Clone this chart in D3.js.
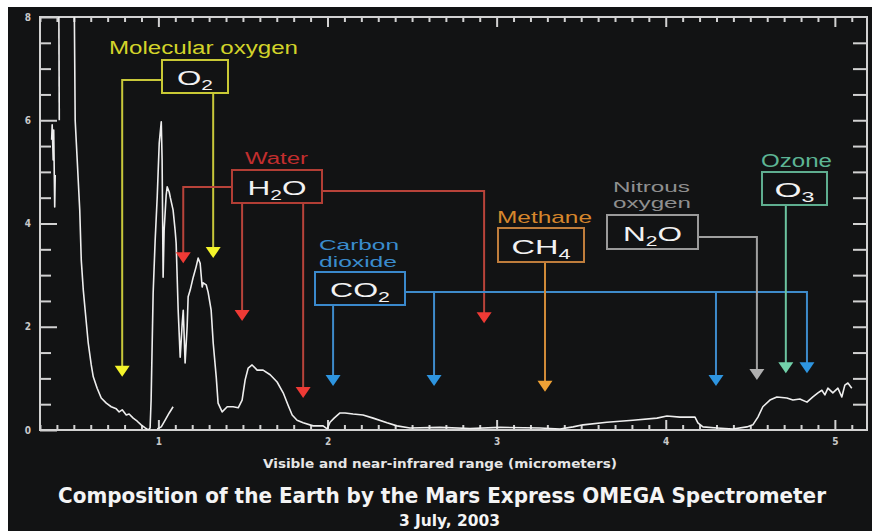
<!DOCTYPE html>
<html><head><meta charset="utf-8">
<script src="https://cdn.jsdelivr.net/npm/d3@7/dist/d3.min.js"></script>
<style>
html,body{margin:0;padding:0;background:#121314;}
svg{display:block;}
</style></head><body>
<svg id="chart" width="872" height="531"></svg>
<script>
// ---------------- DATA ----------------
const xMajorTicks = [1, 2, 3, 4, 5];
const yMajorTicks = [0, 2, 4, 6, 8];

// [wavelength (µm), signal]
const spectrumMain = [
  [0.502,8.5],[0.508,6.00],[0.520,5.23],[0.535,4.26],[0.544,3.29],[0.556,2.71],[0.567,2.32],
  [0.585,1.69],[0.603,1.26],[0.615,1.03],[0.638,0.81],[0.662,0.62],[0.692,0.52],[0.721,0.45],
  [0.751,0.41],[0.768,0.35],[0.786,0.39],[0.810,0.29],[0.827,0.31],[0.851,0.23],[0.875,0.17],
  [0.898,0.10],[0.922,0.04],[0.940,0.00],[0.951,0.04],[0.957,0.58],[0.969,2.65],[0.981,3.68],
  [0.993,4.51],[1.005,5.56],[1.017,5.97],[1.022,5.23],[1.028,2.96],[1.034,3.87],[1.046,4.55],
  [1.052,4.71],[1.064,4.61],[1.070,4.51],[1.087,4.26],[1.099,3.87],[1.105,3.62],[1.117,2.32],
  [1.129,1.41],[1.141,2.07],[1.147,2.32],[1.158,1.30],[1.170,2.00],[1.176,2.58],[1.188,2.71],
  [1.206,2.96],[1.223,3.16],[1.235,3.33],[1.247,3.23],[1.259,2.77],[1.265,2.85],[1.283,2.81],
  [1.294,2.67],[1.312,2.32],[1.324,1.69],[1.342,1.03],[1.353,0.52],[1.377,0.35],[1.407,0.45],
  [1.442,0.45],[1.472,0.43],[1.495,0.58],[1.513,0.97],[1.531,1.20],[1.554,1.26],[1.584,1.16],
  [1.619,1.16],[1.661,1.07],[1.702,0.93],[1.738,0.72],[1.767,0.48],[1.791,0.29],[1.820,0.19],
  [1.856,0.14],[1.915,0.08],[1.974,0.08],[1.998,0.02],[2.015,0.15],[2.039,0.23],[2.074,0.33],
  [2.104,0.33],[2.151,0.31],[2.210,0.29],[2.270,0.23],[2.352,0.14],[2.411,0.08],[2.488,0.04],
  [2.665,0.05],[2.843,0.03],[3.020,0.05],[3.256,0.04],[3.375,0.02],[3.452,0.06],[3.511,0.10],
  [3.652,0.15],[3.806,0.19],[3.948,0.23],[4.007,0.27],[4.084,0.25],[4.173,0.25],[4.190,0.14],
  [4.220,0.06],[4.303,0.04],[4.397,0.02],[4.480,0.06],[4.515,0.10],[4.545,0.25],[4.574,0.45],
  [4.616,0.58],[4.657,0.64],[4.716,0.62],[4.752,0.58],[4.793,0.60],[4.835,0.54],[4.870,0.64],
  [4.900,0.72],[4.923,0.77],[4.941,0.68],[4.959,0.81],[4.988,0.72],[5.018,0.81],[5.041,0.64],
  [5.059,0.87],[5.077,0.91],[5.100,0.81]
];
const spectrumBranch = [[0.993,0.02],[1.017,0.06],[1.040,0.19],[1.064,0.33],[1.087,0.45]];
const spectrumEdge = [[0.369,5.62],[0.372,5.91],[0.378,5.23],[0.381,5.81],[0.387,4.32],[0.390,4.94]];
const spectrumSpike = [[0.411,8.5],[0.414,6.00]];

const gasFormulas = ["O2", "H2O", "CO2", "CH4", "N2O", "O3"];
const gasNames = [["Molecular oxygen"], ["Water"], ["Carbon", "dioxide"], ["Methane"], ["Nitrous", "oxygen"], ["Ozone"]];
const bandWavelengths = [[0.786, 1.324], [1.147, 1.495, 1.856, 2.926], [2.033, 2.630, 4.297, 4.835], [3.286], [4.539], [4.710]];
const bandLevels = [[1.03, 3.33], [3.23, 2.11, 0.62, 2.07], [0.85, 0.85, 0.85, 1.10], [0.74], [0.97], [1.10]];

const xAxisTitle = "Visible and near-infrared range (micrometers)";
const chartTitle = "Composition of the Earth by the Mars Express OMEGA Spectrometer";
const chartSubtitle = "3 July, 2003";

// ---------------- LAYOUT / STYLE ----------------
const W = 872, H = 531;
const plot = {left: 40, right: 867, top: 17, bottom: 430};
const gasLayout = [
  {box:[162,60,228,93],  fLen:36, label:{x:109, size:18, lines:[[54,189]]}, routes:[["left",80],["bottom"]],
   color:{text:"#d3d32a", box:"#c9c935", line:"#c8c83a", head:"#f4f42a"}},
  {box:[232,170,322,203], fLen:59, label:{x:245, size:16, lines:[[164,63]]}, routes:[["left",187],["bottom"],["bottom"],["right",191]],
   color:{text:"#c22e2e", box:"#b23e35", line:"#b8433a", head:"#ee3a35"}},
  {box:[315,272,405,305], fLen:60, label:{x:319, size:15, lines:[[250,80],[267,78]]}, routes:[["bottom"],["right",292],["right",292],["right",292]],
   color:{text:"#3a8ccd", box:"#3a89cc", line:"#3e8bcb", head:"#2e95e0"}},
  {box:[498,228,584,262], fLen:59, label:{x:497, size:17, lines:[[223,95]]}, routes:[["bottom"]],
   color:{text:"#d6862c", box:"#bf7d3c", line:"#d08a38", head:"#f0a235"}},
  {box:[607,215,698,249], fLen:59, label:{x:613, size:14, lines:[[192,77],[208,78]]}, routes:[["right",237]],
   color:{text:"#8f8f8f", box:"#9a9a9a", line:"#a0a0a0", head:"#b0b0b0"}},
  {box:[762,172,827,205], fLen:40, label:{x:761, size:18, lines:[[167,71]]}, routes:[["bottom"]],
   color:{text:"#5db594", box:"#5fae90", line:"#6cc4a0", head:"#72d2aa"}}
];

const svg = d3.select("#chart");
svg.append("rect").attr("width", W).attr("height", H).attr("fill", "#121314");
svg.append("rect").attr("width", W).attr("height", 7).attr("fill", "#ffffff");
svg.append("rect").attr("width", 8).attr("height", H).attr("fill", "#ffffff");

const x = d3.scaleLinear().domain([0.3, 5.19]).range([plot.left, plot.right]);
const y = d3.scaleLinear().domain([0, 8]).range([plot.bottom, plot.top]);

const axisColor = "#d2d2d2";
const tickFont = "'DejaVu Sans Condensed','DejaVu Sans',sans-serif";

const xMinor = d3.range(3, 52).map(i => i / 10).filter(v => v >= 0.3 && Math.abs(v - Math.round(v)) > 1e-6);
const yMinor = d3.range(1, 16).map(i => i / 2).filter(v => !yMajorTicks.includes(v));
const yRight = d3.range(1, 16).map(i => i / 2);

function styleAxis(g) {
  g.select(".domain").remove();
  g.selectAll("line").attr("stroke", axisColor).attr("stroke-width", 2);
  g.selectAll("text").attr("fill", "#c9c9c9").attr("font-family", tickFont)
    .attr("font-weight", "bold").attr("font-size", 10);
}

// bottom
svg.append("g").attr("transform", `translate(0,${plot.bottom})`)
  .call(d3.axisBottom(x).tickValues(xMajorTicks).tickSize(-10).tickPadding(8).tickFormat(d3.format("d"))).call(styleAxis);
svg.append("g").attr("transform", `translate(0,${plot.bottom})`)
  .call(d3.axisBottom(x).tickValues(xMinor).tickSize(-5).tickFormat("")).call(styleAxis);
// top
svg.append("g").attr("transform", `translate(0,${plot.top})`)
  .call(d3.axisTop(x).tickValues(xMajorTicks).tickSize(-10).tickFormat("")).call(styleAxis);
svg.append("g").attr("transform", `translate(0,${plot.top})`)
  .call(d3.axisTop(x).tickValues(xMinor).tickSize(-5).tickFormat("")).call(styleAxis);
// left
svg.append("g").attr("transform", `translate(${plot.left},0)`)
  .call(d3.axisLeft(y).tickValues(yMajorTicks).tickSize(-17).tickPadding(9).tickFormat(d3.format("d"))).call(styleAxis);
svg.append("g").attr("transform", `translate(${plot.left},0)`)
  .call(d3.axisLeft(y).tickValues(yMinor).tickSize(-11).tickFormat("")).call(styleAxis);
// right
svg.append("g").attr("transform", `translate(${plot.right},0)`)
  .call(d3.axisRight(y).tickValues(yRight).tickSize(-14).tickFormat("")).call(styleAxis);

// frame
svg.append("rect").attr("x", plot.left).attr("y", plot.top)
  .attr("width", plot.right - plot.left).attr("height", plot.bottom - plot.top)
  .attr("fill", "none").attr("stroke", axisColor).attr("stroke-width", 2);

// spectrum
svg.append("clipPath").attr("id", "clip").append("rect")
  .attr("x", plot.left).attr("y", plot.top).attr("width", plot.right - plot.left).attr("height", plot.bottom - plot.top);
const line = d3.line().x(d => x(d[0])).y(d => y(d[1]));
const specG = svg.append("g").attr("clip-path", "url(#clip)");
[spectrumMain, spectrumBranch, spectrumEdge, spectrumSpike].forEach(seg => {
  specG.append("path").datum(seg).attr("d", line)
    .attr("fill", "none").attr("stroke", "#eeeeee").attr("stroke-width", 1.6).attr("stroke-linejoin", "round");
});

// annotations
const labelFont = "'Liberation Sans',Arial,sans-serif";
const headH = 11, headW = 15;
gasFormulas.forEach((f, gi) => {
  const L = gasLayout[gi];
  const [bx0, by0, bx1, by1] = L.box;
  const g = svg.append("g");
  // connectors
  bandWavelengths[gi].forEach((wl, bi) => {
    const ax = x(wl), tip = y(bandLevels[gi][bi]);
    const r = L.routes[bi];
    let pts;
    if (r[0] === "bottom") pts = [[ax, by1], [ax, tip - headH + 1]];
    else if (r[0] === "left") pts = [[bx0, r[1]], [ax, r[1]], [ax, tip - headH + 1]];
    else pts = [[bx1, r[1]], [ax, r[1]], [ax, tip - headH + 1]];
    g.append("polyline").attr("points", pts.map(p => p.join(",")).join(" "))
      .attr("fill", "none").attr("stroke", L.color.line).attr("stroke-width", 2);
    g.append("polygon")
      .attr("points", [[ax - headW / 2, tip - headH], [ax + headW / 2, tip - headH], [ax, tip]].map(p => p.join(",")).join(" "))
      .attr("fill", L.color.head);
  });
  // box
  g.append("rect").attr("x", bx0).attr("y", by0).attr("width", bx1 - bx0).attr("height", by1 - by0)
    .attr("fill", "#121314").attr("stroke", L.color.box).attr("stroke-width", 2);
  // formula
  const cx = (bx0 + bx1) / 2, base = (by0 + by1) / 2 + 8.5;
  const t = g.append("text").attr("x", cx - L.fLen / 2).attr("y", base)
    .attr("font-family", labelFont).attr("font-size", 21).attr("fill", "#f2f2f2")
    .attr("textLength", L.fLen).attr("lengthAdjust", "spacingAndGlyphs");
  let shifted = false;
  f.split("").forEach(ch => {
    const isDigit = /[0-9]/.test(ch);
    const ts = t.append("tspan").text(ch);
    if (isDigit) { ts.attr("font-size", 14).attr("dy", 5); shifted = true; }
    else if (shifted) { ts.attr("dy", -5); shifted = false; }
  });
  // name label
  gasNames[gi].forEach((txt, li) => {
    const [bl, len] = L.label.lines[li];
    g.append("text").attr("x", L.label.x).attr("y", bl).text(txt)
      .attr("font-family", labelFont).attr("font-size", L.label.size).attr("fill", L.color.text)
      .attr("textLength", len).attr("lengthAdjust", "spacingAndGlyphs");
  });
});

// titles
const titleFont = "'DejaVu Sans Condensed','DejaVu Sans',sans-serif";
svg.append("text").attr("x", 263).attr("y", 468).text(xAxisTitle)
  .attr("font-family", titleFont).attr("font-weight", "bold").attr("font-size", 13).attr("fill", "#e6e6e6")
  .attr("textLength", 354).attr("lengthAdjust", "spacingAndGlyphs");
svg.append("text").attr("x", 58).attr("y", 503).text(chartTitle)
  .attr("font-family", titleFont).attr("font-weight", "bold").attr("font-size", 21).attr("fill", "#f4f4f4")
  .attr("textLength", 768).attr("lengthAdjust", "spacingAndGlyphs");
svg.append("text").attr("x", 399).attr("y", 526).text(chartSubtitle)
  .attr("font-family", titleFont).attr("font-weight", "bold").attr("font-size", 16).attr("fill", "#f4f4f4")
  .attr("textLength", 101).attr("lengthAdjust", "spacingAndGlyphs");
</script>
</body></html>
